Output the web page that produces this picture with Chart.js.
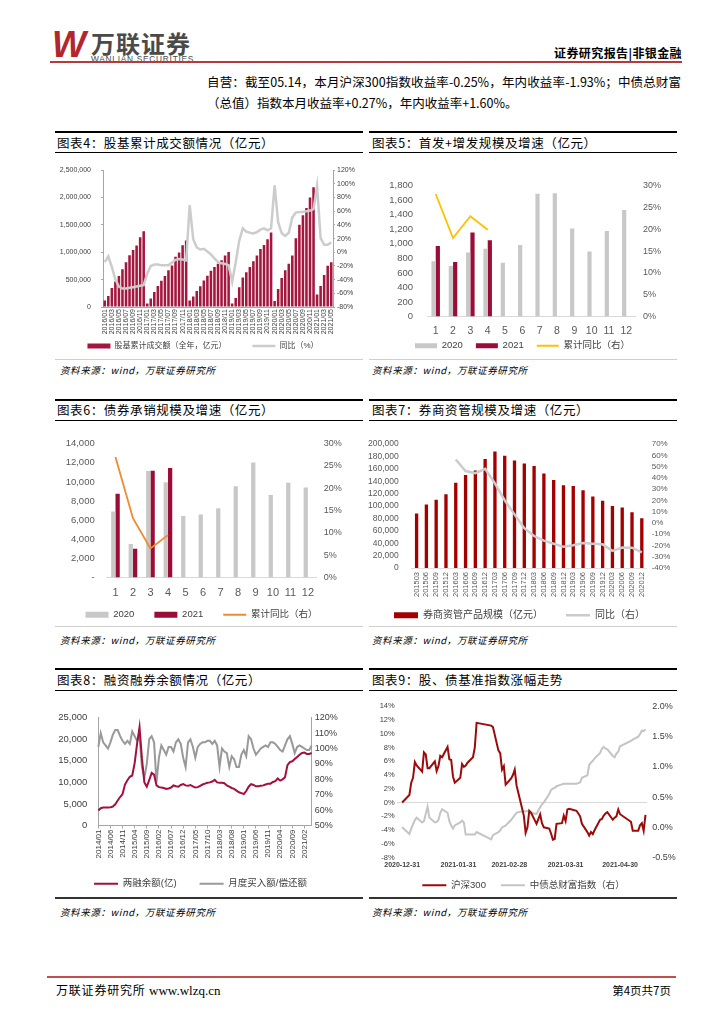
<!DOCTYPE html>
<html lang="zh-CN">
<head>
<meta charset="utf-8">
<title>证券研究报告 | 非银金融</title>
<script src="https://cdn.jsdelivr.net/npm/chart.js@4.4.1/dist/chart.umd.min.js"></script>
<style>
html, body { margin: 0; padding: 0; background: #fff; }
body { width: 724px; height: 1024px; position: relative; overflow: hidden; font-family: "Noto Sans CJK SC", sans-serif; color: #000; }
.abs { position: absolute; }
.box { position: absolute; }
.rule-top { position: absolute; height: 2px; background: #000; }
.rule-mid { position: absolute; height: 1px; background: #000; }
.rule-end { position: absolute; height: 1px; background: #cfcfcf; }
.title { position: absolute; font-size: 12.5px; line-height: 18px; letter-spacing: 0.6px; white-space: nowrap; }
.src { position: absolute; font-size: 9.5px; font-style: italic; letter-spacing: 0.6px; line-height: 14px; white-space: nowrap; }
</style>
</head>
<body>

<!-- header -->
<div class="abs" style="left:52px;top:24px;font:italic 900 36px 'Liberation Sans',sans-serif;color:#b3262c;letter-spacing:-3px;">W</div>
<div class="abs" style="left:91px;top:29px;font-size:24px;font-weight:700;color:#4a4a4a;letter-spacing:1px;line-height:28px;">万联证券</div>
<div class="abs" style="left:91px;top:54px;font:8.3px 'Liberation Sans',sans-serif;color:#4a4a4a;letter-spacing:0.75px;">WANLIAN SECURITIES</div>
<div class="abs" style="right:42px;top:44px;font-size:12px;font-weight:700;line-height:18px;letter-spacing:0.4px;">证券研究报告|非银金融</div>
<div class="abs" style="left:50px;top:61px;width:632px;height:2px;background:#b8393c;"></div>

<!-- text -->
<div class="abs" style="left:207px;top:73px;width:474px;font-size:12.5px;line-height:18px;text-align:justify;text-align-last:justify;white-space:nowrap;">自营：截至05.14，本月沪深300指数收益率-0.25%，年内收益率-1.93%；中债总财富</div>
<div class="abs" style="left:207px;top:94px;font-size:12.5px;line-height:18px;white-space:nowrap;">（总值）指数本月收益率+0.27%，年内收益率+1.60%。</div>

<!-- panel frames -->
<div class="rule-top" style="left:55px;top:131px;width:308px;"></div>
<div class="rule-top" style="left:369px;top:131px;width:308px;"></div>
<div class="title" style="left:57px;top:134px;">图表4：股基累计成交额情况（亿元）</div>
<div class="title" style="left:372px;top:134px;">图表5：首发+增发规模及增速（亿元）</div>
<div class="rule-mid" style="left:55px;top:152px;width:308px;"></div>
<div class="rule-mid" style="left:369px;top:152px;width:308px;"></div>
<div class="rule-end" style="left:55px;top:359px;width:308px;"></div>
<div class="rule-end" style="left:369px;top:359px;width:308px;"></div>
<div class="src" style="left:60px;top:363px;">资料来源：wind，万联证券研究所</div>
<div class="src" style="left:372px;top:363px;">资料来源：wind，万联证券研究所</div>

<div class="rule-top" style="left:55px;top:399px;width:308px;"></div>
<div class="rule-top" style="left:369px;top:399px;width:308px;"></div>
<div class="title" style="left:57px;top:401px;">图表6：债券承销规模及增速（亿元）</div>
<div class="title" style="left:372px;top:401px;">图表7：券商资管规模及增速（亿元）</div>
<div class="rule-mid" style="left:55px;top:420px;width:308px;"></div>
<div class="rule-mid" style="left:369px;top:420px;width:308px;"></div>
<div class="rule-end" style="left:55px;top:626px;width:308px;"></div>
<div class="rule-end" style="left:369px;top:626px;width:308px;"></div>
<div class="src" style="left:60px;top:633px;">资料来源：wind，万联证券研究所</div>
<div class="src" style="left:372px;top:633px;">资料来源：wind，万联证券研究所</div>

<div class="rule-top" style="left:55px;top:668px;width:308px;"></div>
<div class="rule-top" style="left:369px;top:668px;width:308px;"></div>
<div class="title" style="left:57px;top:671px;">图表8：融资融券余额情况（亿元）</div>
<div class="title" style="left:372px;top:671px;">图表9：股、债基准指数涨幅走势</div>
<div class="rule-mid" style="left:55px;top:690px;width:308px;"></div>
<div class="rule-mid" style="left:369px;top:690px;width:308px;"></div>
<div class="abs" style="left:55px;top:897px;width:308px;height:2px;background:#333;"></div>
<div class="abs" style="left:369px;top:897px;width:308px;height:2px;background:#333;"></div>
<div class="src" style="left:60px;top:905px;">资料来源：wind，万联证券研究所</div>
<div class="src" style="left:372px;top:905px;">资料来源：wind，万联证券研究所</div>

<!-- charts -->
<div class="box" style="left:50px;top:156px;width:314px;height:227px;"><canvas id="c4"></canvas></div>
<div class="box" style="left:370px;top:166px;width:305px;height:203px;"><canvas id="c5"></canvas></div>
<div class="box" style="left:58px;top:426px;width:305px;height:213px;"><canvas id="c6"></canvas></div>
<div class="box" style="left:362px;top:426px;width:315px;height:217px;"><canvas id="c7"></canvas></div>
<div class="box" style="left:55px;top:701px;width:305px;height:201px;"><canvas id="c8"></canvas></div>
<div class="box" style="left:365px;top:696px;width:311px;height:209px;"><canvas id="c9"></canvas></div>

<!-- footer -->
<div class="abs" style="left:47px;top:976px;width:629px;height:2px;background:#c0504d;"></div>
<div class="abs" style="left:56px;top:981px;font-size:12px;line-height:18px;letter-spacing:0.8px;white-space:nowrap;">万联证券研究所 <span style="font-family:'Liberation Serif',serif;font-size:13px;letter-spacing:0;">www.wlzq.cn</span></div>
<div class="abs" style="right:53px;top:981px;font-size:11.5px;line-height:18px;white-space:nowrap;">第4页共7页</div>

<script>
function monthLabels(y, m, n) {
  const out = [];
  for (let i = 0; i < n; i++) {
    out.push(y + '/' + String(m).padStart(2, '0'));
    m++;
    if (m > 12) { m = 1; y++; }
  }
  return out;
}

// 图表4 股基累计成交额
const months4 = monthLabels(2016, 1, 65);
const turnover4 = [
  117000, 199000, 345000, 468000, 567000, 690000, 819000, 947000, 1041000, 1123000, 1275000, 1386000,
  66000, 154000, 275000, 386000, 480000, 567000, 673000, 760000, 918000, 994000, 1129000, 1216000,
  117000, 193000, 292000, 380000, 485000, 573000, 661000, 731000, 789000, 854000, 942000, 1006000,
  64000, 164000, 363000, 538000, 637000, 731000, 836000, 942000, 1058000, 1135000, 1240000, 1362000,
  111000, 327000, 532000, 673000, 789000, 942000, 1257000, 1503000, 1678000, 1807000, 2000000, 2187000,
  228000, 386000, 585000, 754000, 819000
];
const yoy4 = [
  -14.5, -6, -21.5, -40, -50, -53, -53, -52, -51, -50, -49, -48,
  -31, -20, -18, -18, -19, -19, -19, -15, -11, -10, -10.5, -12,
  69, 19, 7, 4, 5, 1, -3, -9, -14.5, -16, -17, -19,
  -43, -15, 17, 35, 30, 28.5, 27.5, 29.5, 33, 35, 32, 35,
  98, 44, 28, 24, 28.5, 51, 58, 59, 59, 60, 61, 63,
  97, 20.6, 11, 11, 14.5
];

// 图表5 首发+增发
const months12 = ['1', '2', '3', '4', '5', '6', '7', '8', '9', '10', '11', '12'];
const equity2020 = [759, 696, 882, 932, 738, 983, 1688, 1696, 1211, 894, 1177, 1464];
const equity2021 = [970, 751, 1156, 1051];
const equityYoy = [28.1, 18.0, 23.0, 19.9];

// 图表6 债券承销
const bond2020 = [6916, 3506, 11136, 9968, 6429, 6591, 7240, 9545, 12045, 8636, 9903, 9416];
const bond2021 = [8766, 3019, 11169, 11461];
const bondYoy = [27.0, 13.3, 6.5, 9.5];

// 图表7 券商资管
const quarters7 = ['201503', '201506', '201509', '201512', '201603', '201606', '201609', '201612',
  '201703', '201706', '201709', '201712', '201803', '201806', '201809', '201812',
  '201903', '201906', '201909', '201912', '202003', '202006', '202009', '202012'];
const am7 = [88000, 102500, 110000, 119000, 137500, 150000, 157500, 176000,
  188000, 181000, 173500, 168500, 164500, 152500, 142000, 133500,
  132500, 125500, 115500, 108500, 100000, 97500, 90000, 80500];
const amYoy7 = [null, null, null, null, 56.3, 46.1, 44.2, 48.0,
  35.1, 20.0, 7.6, -4.7, -11.6, -15.7, -18.5, -21.2,
  -19.8, -17.9, -18.5, -19.0, -24.8, -21.8, -22.0, -26.2];

// 图表8 两融
const months8 = monthLabels(2014, 1, 89);
const margin8 = [
  3500, 4000, 4150, 4150, 4150, 4200, 4400, 4900, 5800, 6600, 7300, 9500,
  10500, 11300, 11600, 14500, 19000, 22800, 15500, 10000, 9000, 10500, 12200, 11800,
  9300, 8900, 8800, 8700, 8500, 8600, 8800, 9300, 9100, 9000, 9400, 9600,
  9300, 9200, 9400, 9100, 8800, 8900, 9200, 9500, 9700, 9900, 10000, 10200,
  10600, 10000, 9900, 9900, 9800, 9300, 9000, 8700, 8500, 8100, 7700, 7500,
  7300, 8000, 9000, 9600, 9400, 9100, 9100, 9200, 9300, 9500, 9700, 9700,
  10100, 10300, 10900, 10400, 10700, 11200, 14000, 14700, 14900, 15400, 15900, 16400,
  16800, 16900, 16600, 16600, 16800
];
const buyRepay8 = [
  101, 110, 104, 102, 100, 104, 109, 112, 112, 108, 105, 103,
  105, 103, 111, 108, 105, 108, 88, 81, 90, 106, 108, 104,
  78, 94, 102, 99, 96, 101, 101, 98, 104, 106, 103, 94,
  88, 104, 106, 101, 94, 101, 103, 104, 104, 105, 105, 103,
  105, 102, 88, 100, 98, 97, 88, 95, 93, 88, 88, 96,
  99, 95, 108, 106, 100, 96, 98, 100, 101, 102, 101, 104,
  104, 103, 101, 99, 98, 102, 106, 108, 103, 97, 101, 102,
  101, 100, 99, 99, 102
];

// 图表9 股、债基准指数
const dates9 = ['2020-12-31',
  '2021-01-04', '2021-01-05', '2021-01-06', '2021-01-07', '2021-01-08', '2021-01-11', '2021-01-12', '2021-01-13', '2021-01-14', '2021-01-15',
  '2021-01-18', '2021-01-19', '2021-01-20', '2021-01-21', '2021-01-22', '2021-01-25', '2021-01-26', '2021-01-27', '2021-01-28', '2021-01-29',
  '2021-02-01', '2021-02-02', '2021-02-03', '2021-02-04', '2021-02-05', '2021-02-08', '2021-02-09', '2021-02-10', '2021-02-18', '2021-02-19',
  '2021-02-22', '2021-02-23', '2021-02-24', '2021-02-25', '2021-02-26',
  '2021-03-01', '2021-03-02', '2021-03-03', '2021-03-04', '2021-03-05', '2021-03-08', '2021-03-09', '2021-03-10', '2021-03-11', '2021-03-12',
  '2021-03-15', '2021-03-16', '2021-03-17', '2021-03-18', '2021-03-19', '2021-03-22', '2021-03-23', '2021-03-24', '2021-03-25', '2021-03-26',
  '2021-03-29', '2021-03-30', '2021-03-31',
  '2021-04-01', '2021-04-02', '2021-04-06', '2021-04-07', '2021-04-08', '2021-04-09', '2021-04-12', '2021-04-13', '2021-04-14', '2021-04-15',
  '2021-04-16', '2021-04-19', '2021-04-20', '2021-04-21', '2021-04-22', '2021-04-23', '2021-04-26', '2021-04-27', '2021-04-28', '2021-04-29',
  '2021-04-30',
  '2021-05-06', '2021-05-07', '2021-05-10', '2021-05-11', '2021-05-12', '2021-05-13', '2021-05-14'];
const hs300 = [0,
  1.1, 2.9, 3.6, 5.9, 5.4, 4.5, 7.3, 7.0, 5.0, 5.0, 6.0, 4.6, 5.3, 6.8, 6.6, 8.1, 6.3, 6.2, 3.8, 2.9,
  3.6, 5.6, 5.2, 5.4, 5.8, 6.6, 8.0, 11.6, 11.2, 11.0, 7.6, 7.2, 4.8, 5.3, 2.6,
  3.5, 4.0, 4.8, 2.5, 1.4, -1.9, -4.4, -3.6, -1.2, -1.5, -3.1, -2.4, -1.7, -3.0, -3.6, -3.8, -4.5, -5.4, -5.3, -3.1, -3.0, -1.9, -2.7,
  -1.0, -0.9, -1.2, -1.6, -2.0, -3.1, -4.3, -4.8, -4.3, -4.6, -4.0, -2.5, -2.4, -1.9, -1.6, -1.4, -2.5, -2.2, -2.0, -1.0, -1.7,
  -2.8, -4.1, -4.1, -3.3, -3.0, -4.1, -1.8];
const cbWealth = [0,
  -0.11, -0.02, 0.05, 0.12, 0.16, 0.08, 0.10, 0.22, 0.34, 0.16, 0.08, 0.09, 0.12, 0.24, 0.30, 0.24, 0.10, 0.03, -0.02, 0.03,
  0.08, 0.11, 0.08, -0.12, -0.12, -0.12, -0.12, -0.08, -0.20, -0.13, -0.08, -0.05, 0.00, 0.01, 0.03,
  0.12, 0.16, 0.20, 0.24, 0.25, 0.27, 0.26, 0.27, 0.26, 0.24, 0.22, 0.28, 0.33, 0.38, 0.41, 0.55, 0.62, 0.64, 0.65, 0.68, 0.71, 0.72, 0.72,
  0.72, 0.72, 0.72, 0.73, 0.74, 0.82, 0.86, 1.03, 1.07, 1.10, 1.14, 1.23, 1.30, 1.33, 1.30, 1.29, 1.18, 1.16, 1.22, 1.25, 1.34,
  1.43, 1.45, 1.50, 1.54, 1.60, 1.59, 1.62];
const tickLabels9 = ['2020-12-31', '2021-01-31', '2021-02-28', '2021-03-31', '2021-04-30'];

const dayOf = d => (Date.parse(d) - Date.parse('2020-12-31')) / 864e5;
const tickDays9 = tickLabels9.map(dayOf);

Chart.defaults.font.family = "'Liberation Sans', 'Noto Sans CJK SC', sans-serif";
Chart.defaults.color = '#595959';
Chart.defaults.animation = false;
Chart.defaults.plugins.tooltip.enabled = false;

// move the legend box up or down after layout
Chart.register({
  id: 'legendShift',
  afterLayout(chart, args, opts) {
    const l = chart.legend;
    if (l && opts.dy) { l.top += opts.dy; l.bottom += opts.dy; }
  }
});

const num = v => v.toLocaleString('en-US');
const pct = v => v + '%';
const fixW = w => s => { s.width = w; };
const fixH = h => s => { s.height = h; };
const bySet = (a, b) => a.datasetIndex - b.datasetIndex;
const clear = 'rgba(0,0,0,0)';

function legendOpts(pad, size, w, h) {
  return {
    position: 'bottom',
    labels: { usePointStyle: true, pointStyleWidth: w, boxHeight: h, padding: pad, color: '#404040', font: { size: size }, sort: bySet }
  };
}
function plain(extra) {
  return Object.assign({ grid: { display: false, drawTicks: false }, border: { display: false } }, extra);
}

// ---- 图表4
new Chart(document.getElementById('c4'), {
  type: 'bar',
  data: {
    labels: months4,
    datasets: [
      { label: '股基累计成交额（全年，亿元）', data: turnover4, backgroundColor: '#a3163e', pointStyle: 'rect', barPercentage: 0.72, categoryPercentage: 1 },
      { type: 'line', label: '同比（%）', data: yoy4, yAxisID: 'y1', borderColor: '#cccccc', borderWidth: 2.5, pointRadius: 0, pointStyle: 'line', order: -1 }
    ]
  },
  options: {
    responsive: true, maintainAspectRatio: false,
    layout: { padding: { top: 8, right: 8 } },
    plugins: { legend: legendOpts(26, 8, 23, 5), legendShift: { dy: -23 } },
    scales: {
      x: {
        grid: { display: false, drawTicks: false }, border: { color: '#a6a6a6' },
        ticks: { autoSkip: false, minRotation: 90, maxRotation: 90, padding: 2, color: '#404040', font: { size: 7 },
          callback: function (v, i) { return i % 2 ? '' : this.getLabelForValue(v); } },
        afterFit: fixH(32)
      },
      y: {
        min: 0, max: 2500000,
        grid: { drawOnChartArea: false, tickLength: 2, color: '#a6a6a6' }, border: { color: '#a6a6a6' },
        ticks: { stepSize: 500000, autoSkip: false, padding: 10, color: '#404040', font: { size: 7 }, callback: num },
        afterFit: fixW(53)
      },
      y1: {
        position: 'right', min: -80, max: 120,
        grid: { drawOnChartArea: false, tickLength: 2, color: '#a6a6a6' }, border: { color: '#a6a6a6' },
        ticks: { stepSize: 20, autoSkip: false, padding: 2, color: '#404040', font: { size: 7 }, callback: pct },
        afterFit: fixW(23)
      }
    }
  }
});

// ---- 图表5
new Chart(document.getElementById('c5'), {
  type: 'bar',
  data: {
    labels: months12,
    datasets: [
      { label: '2020', data: equity2020, backgroundColor: '#c8c8c8', pointStyle: 'rect', barPercentage: 0.97, categoryPercentage: 0.5 },
      { label: '2021', data: equity2021, backgroundColor: '#9b0d37', pointStyle: 'rect', barPercentage: 0.97, categoryPercentage: 0.5 },
      { type: 'line', label: '累计同比（右）', data: equityYoy, yAxisID: 'y1', borderColor: '#ffc000', borderWidth: 1.8, pointRadius: 0, pointStyle: 'line', order: -1 }
    ]
  },
  options: {
    responsive: true, maintainAspectRatio: false,
    layout: { padding: { top: 8 } },
    plugins: { legend: legendOpts(13, 9.5, 22, 5), legendShift: { dy: -8.5 } },
    scales: {
      x: {
        grid: { display: false, drawTicks: false }, border: { color: '#d9d9d9' },
        ticks: { autoSkip: false, minRotation: 0, maxRotation: 0, padding: 8, font: { size: 10.5 } },
        afterFit: fixH(20)
      },
      y: plain({ min: 0, max: 1800, ticks: { stepSize: 200, autoSkip: false, padding: 14, font: { size: 9.5 }, callback: num }, afterFit: fixW(57) }),
      y1: plain({ position: 'right', min: 0, max: 30, ticks: { stepSize: 5, autoSkip: false, padding: 8, font: { size: 9 }, callback: pct }, afterFit: fixW(40) })
    }
  }
});

// ---- 图表6
new Chart(document.getElementById('c6'), {
  type: 'bar',
  data: {
    labels: months12,
    datasets: [
      { label: '2020', data: bond2020, backgroundColor: '#c8c8c8', pointStyle: 'rect', barPercentage: 0.97, categoryPercentage: 0.5 },
      { label: '2021', data: bond2021, backgroundColor: '#9b0d37', pointStyle: 'rect', barPercentage: 0.97, categoryPercentage: 0.5 },
      { type: 'line', label: '累计同比（右）', data: bondYoy, yAxisID: 'y1', borderColor: '#f0892f', borderWidth: 1.8, pointRadius: 0, pointStyle: 'line', order: -1 }
    ]
  },
  options: {
    responsive: true, maintainAspectRatio: false,
    layout: { padding: { top: 8, right: 18 } },
    plugins: { legend: legendOpts(20, 9.5, 23, 6), legendShift: { dy: -9.5 } },
    scales: {
      x: {
        grid: { display: false, drawTicks: false }, border: { color: '#d9d9d9' },
        ticks: { autoSkip: false, minRotation: 0, maxRotation: 0, padding: 8.5, font: { size: 11 } },
        afterFit: fixH(22)
      },
      y: plain({ min: 0, max: 14000, ticks: { stepSize: 2000, autoSkip: false, padding: 12, font: { size: 9.5 }, callback: v => v === 0 ? '-' : num(v) }, afterFit: fixW(48.7) }),
      y1: plain({ position: 'right', min: 0, max: 30, ticks: { stepSize: 5, autoSkip: false, padding: 7, font: { size: 9 }, callback: pct }, afterFit: fixW(28.3) })
    }
  }
});

// ---- 图表7
new Chart(document.getElementById('c7'), {
  type: 'bar',
  data: {
    labels: quarters7,
    datasets: [
      { label: '券商资管产品规模（亿元）', data: am7, backgroundColor: '#a50000', pointStyle: 'rect', barPercentage: 0.34, categoryPercentage: 1 },
      { type: 'line', label: '同比（右）', data: amYoy7, yAxisID: 'y1', borderColor: '#cccccc', borderWidth: 2.5, pointRadius: 0, pointStyle: 'line', order: -1 }
    ]
  },
  options: {
    responsive: true, maintainAspectRatio: false,
    layout: { padding: { top: 8 } },
    plugins: { legend: legendOpts(23, 10, 24, 6), legendShift: { dy: -12.7 } },
    scales: {
      x: {
        grid: { display: false, drawTicks: false }, border: { color: '#e0e0e0' },
        ticks: { autoSkip: false, minRotation: 90, maxRotation: 90, padding: 4, font: { size: 7.5 } },
        afterFit: fixH(32)
      },
      y: plain({ min: 0, max: 200000, ticks: { stepSize: 20000, autoSkip: false, padding: 13, font: { size: 8.5 }, callback: num }, afterFit: fixW(49.7) }),
      y1: plain({ position: 'right', min: -40, max: 70, ticks: { stepSize: 10, autoSkip: false, padding: 5, font: { size: 8 }, callback: pct }, afterFit: fixW(30.3) })
    }
  }
});

// ---- 图表8
new Chart(document.getElementById('c8'), {
  type: 'line',
  data: {
    labels: months8,
    datasets: [
      { label: '两融余额(亿)', data: margin8, borderColor: '#a50f3d', borderWidth: 2, pointRadius: 0, pointStyle: 'line' },
      { label: '月度买入额/偿还额', data: buyRepay8, yAxisID: 'y1', borderColor: '#999999', borderWidth: 2, pointRadius: 0, pointStyle: 'line' }
    ]
  },
  options: {
    responsive: true, maintainAspectRatio: false,
    layout: { padding: { top: 8, right: 14 } },
    plugins: { legend: legendOpts(23, 9.5, 24, 5), legendShift: { dy: -3.5 } },
    scales: {
      x: {
        grid: { drawOnChartArea: false, tickLength: 3, color: c => c.index % 5 === 0 ? '#a6a6a6' : clear },
        border: { color: '#a6a6a6' },
        ticks: { autoSkip: false, minRotation: 90, maxRotation: 90, padding: 1, color: '#404040', font: { size: 8 },
          callback: function (v, i) { return i % 5 ? '' : this.getLabelForValue(v); } },
        afterFit: fixH(34)
      },
      y: {
        min: 0, max: 25000,
        grid: { display: false, drawTicks: false }, border: { color: '#a6a6a6' },
        ticks: { stepSize: 5000, autoSkip: false, padding: 11, color: '#404040', font: { size: 9.5 }, callback: num },
        afterFit: fixW(43.3)
      },
      y1: {
        position: 'right', min: 50, max: 120,
        grid: { display: false, drawTicks: false }, border: { color: '#a6a6a6' },
        ticks: { stepSize: 10, autoSkip: false, padding: 3, color: '#404040', font: { size: 9 }, callback: pct },
        afterFit: fixW(34.3)
      }
    }
  }
});

// ---- 图表9
new Chart(document.getElementById('c9'), {
  type: 'line',
  data: {
    datasets: [
      { label: '沪深300', data: dates9.map((d, i) => ({ x: dayOf(d), y: hs300[i] })), borderColor: '#9c0a0a', borderWidth: 2, pointRadius: 0, pointStyle: 'line' },
      { label: '中债总财富指数（右）', data: dates9.map((d, i) => ({ x: dayOf(d), y: cbWealth[i] })), yAxisID: 'y1', borderColor: '#c4c4c4', borderWidth: 2, pointRadius: 0, pointStyle: 'line' }
    ]
  },
  options: {
    responsive: true, maintainAspectRatio: false,
    layout: { padding: { top: 8, left: 6 } },
    plugins: { legend: legendOpts(15, 9.5, 24, 5), legendShift: { dy: -5 } },
    scales: {
      x: {
        type: 'linear', min: -3, max: 135,
        grid: { display: false, drawTicks: false }, border: { display: false },
        afterBuildTicks: s => { s.ticks = tickDays9.map(v => ({ value: v })); },
        ticks: { padding: 3.5, color: '#404040', font: { size: 7, weight: 'bold' }, callback: v => tickLabels9[tickDays9.indexOf(v)] },
        afterFit: fixH(13)
      },
      y: {
        min: -8, max: 14,
        grid: { drawTicks: false, color: c => c.tick.value === 0 ? '#d9d9d9' : clear }, border: { display: false },
        ticks: { stepSize: 2, autoSkip: false, padding: 2, color: '#404040', font: { size: 7.5 }, callback: pct },
        afterFit: fixW(25.7)
      },
      y1: plain({ position: 'right', min: -0.5, max: 2.0, ticks: { stepSize: 0.5, autoSkip: false, padding: 5, color: '#404040', font: { size: 9 }, callback: v => v.toFixed(1) + '%' }, afterFit: fixW(28.7) })
    }
  }
});
</script>
</body>
</html>
